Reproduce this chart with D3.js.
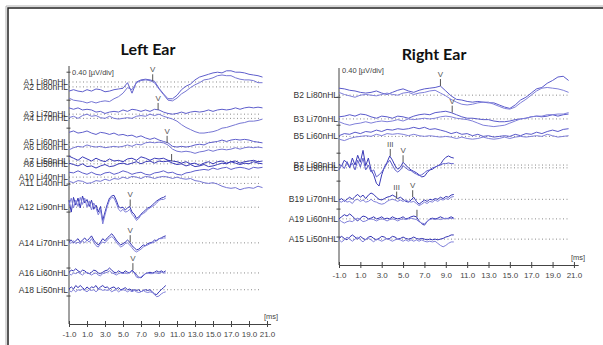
<!DOCTYPE html>
<html>
<head>
<meta charset="utf-8">
<script src="https://cdn.jsdelivr.net/npm/d3@7"></script>
<style>
  body { margin: 0; background: #fff; }
  svg { display: block; }
  text { font-family: "Liberation Sans", Arial, sans-serif; }
</style>
</head>
<body>
<svg id="chart" width="603" height="345"></svg>
<script>
// ---- data (µV offsets from each channel baseline, one value per sample) ----
const xTicks = [-1, 1, 3, 5, 7, 9, 11, 13, 15, 17, 19, 21];

// Left ear
const leftLabels = ["A1 Li80nHL", "A2 Li80nHL", "A3 Li70nHL", "A4 Li70nHL", "A5 Li60nHL", "A6 Li60nHL",
  "A7 Li50nHL", "A8 Li50nHL", "A10 Li40nHL", "A11 Li40nHL", "A12 Li90nHL", "A14 Li70nHL", "A16 Li60nHL", "A18 Li50nHL"];
const leftOffsets = [3.46, 3.39, 3.0, 2.94, 2.6, 2.53, 2.33, 2.29, 2.1, 2.01, 1.67, 1.16, 0.73, 0.49];
const leftStep = [0.5, 0.5, 0.5, 0.5, 0.5, 0.5, 0.5, 0.5, 0.5, 0.5, 0.25, 0.25, 0.25, 0.25];

const A1 = [-0.13,-0.11,-0.13,-0.14,-0.11,-0.13,-0.10,-0.11,-0.14,-0.13,-0.11,-0.10,-0.09,-0.01,-0.16,0,0.03,0.04,0.03,0.01,-0.09,-0.17,-0.24,-0.24,-0.19,-0.11,-0.06,-0.03,0.03,0.07,0.09,0.11,0.13,0.14,0.13,0.16,0.16,0.14,0.14,0.13,0.11,0.10,0.09,0.07];
const A2 = [-0.16,-0.19,-0.20,-0.21,-0.23,-0.21,-0.23,-0.21,-0.20,-0.21,-0.17,-0.14,-0.09,-0.01,-0.04,0.06,0.09,0.10,0.09,0.06,-0.03,-0.11,-0.19,-0.20,-0.16,-0.10,-0.06,-0.01,0.03,0.06,0.10,0.11,0.13,0.16,0.17,0.16,0.16,0.13,0.11,0.10,0.10,0.09,0.06,0.06];
const A3 = [0.09,0.07,0.09,0.06,0.07,0.06,0.03,0.04,0.01,0.03,0.04,0.03,0.06,0.04,0.07,0.06,0.04,0.06,0.04,0.07,0.06,0.03,0.01,0,0.01,0.03,0.01,0.03,0.04,0.03,0.04,0.06,0.04,0.06,0.07,0.06,0.07,0.09,0.07,0.09,0.10,0.09,0.10,0.09];
const A4 = [0.01,0.03,0,0.04,0.06,0.03,0.04,0.01,0,0.03,0,-0.01,0,0.01,0,0.03,0.04,0.03,0.06,0.04,0.06,0.03,0.01,-0.01,-0.04,-0.09,-0.13,-0.16,-0.19,-0.21,-0.21,-0.20,-0.19,-0.17,-0.14,-0.13,-0.11,-0.09,-0.07,-0.06,-0.04,-0.04,-0.03,-0.01];
const A5 = [0.14,0.16,0.13,0.14,0.16,0.13,0.11,0.14,0.13,0.11,0.13,0.10,0.11,0.09,0.10,0.07,0.09,0.06,0.04,0.06,0.03,0.01,-0.01,-0.06,-0.07,-0.06,-0.07,-0.06,-0.04,-0.03,-0.04,-0.01,0,0.01,0.03,0.01,0.03,0.04,0.03,0.04,0.03,0.01,0,-0.01];
const A6 = [-0.04,-0.01,0.01,0,0.03,0.01,0,0.01,-0.01,0,0.01,0,0.01,0.03,0.01,0.04,0.03,0.06,0.07,0.06,0.07,0.06,0.03,-0.03,-0.06,-0.07,-0.06,-0.07,-0.09,-0.07,-0.06,-0.04,-0.06,-0.04,-0.03,-0.04,-0.03,-0.01,-0.03,-0.01,0,-0.01,0,-0.01];
const A7 = [0.07,0.04,0.01,0.06,0.03,0,0.04,0.01,-0.01,0.03,0,0.01,-0.01,0.03,0.04,0.01,0.06,0.04,0.01,0.04,0.03,0.04,0.01,0,-0.01,-0.03,-0.01,-0.04,-0.03,-0.06,-0.03,-0.01,-0.04,-0.01,0,-0.03,-0.01,0,-0.03,-0.01,0,0.01,-0.01,0];
const A8 = [0.01,-0.01,-0.03,0,-0.04,-0.03,-0.06,-0.03,-0.01,-0.04,-0.03,0,0.01,-0.01,0.01,0.03,0,0.03,0.04,0.01,0.04,0.03,0.04,0.01,-0.01,0,-0.03,-0.01,-0.04,-0.03,-0.01,-0.04,-0.03,-0.01,0.01,0,0.03,0.01,-0.01,0.01,0,0.03,0.01,0];
const A10 = [0.07,0.06,0.09,0.06,0.04,0.07,0.04,0.03,0.06,0.07,0.04,0.06,0.09,0.07,0.04,0.06,0.07,0.04,0.03,0.06,0.07,0.09,0.06,0.07,0.04,0.03,0.06,0.07,0.09,0.10,0.11,0.10,0.13,0.11,0.13,0.14,0.11,0.13,0.14,0.13,0.11,0.14,0.13,0.14];
const A11 = [0.03,0.01,0.04,0.03,0,0.01,0.04,0.03,0.06,0.04,0.07,0.06,0.09,0.07,0.10,0.09,0.07,0.10,0.09,0.07,0.09,0.10,0.09,0.07,0.09,0.07,0.06,0.07,0.04,0.03,0.01,0,0.01,-0.01,-0.04,-0.06,-0.07,-0.06,-0.09,-0.07,-0.06,-0.07,-0.04,-0.06];
const A12a = [0.10,-0.07,0.14,0.03,0.13,-0.01,0.16,0.06,0.11,0.01,0.10,-0.03,0.03,-0.07,0.01,-0.19,-0.07,0.04,0.13,0.16,0.17,0.10,0.01,-0.01,0,-0.04,-0.01,0.01,-0.07,-0.10,-0.16,-0.14,-0.10,-0.07,-0.04,-0.01,0,0.03,0.06,0.09,0.11,0.13,0.14,0.16];
const A12b = [0.03,0.13,-0.01,0.10,0.01,0.14,0.04,0.13,0,0.09,-0.04,0.06,-0.01,-0.11,-0.04,-0.24,-0.11,0.01,0.10,0.14,0.13,0.06,-0.03,-0.06,-0.03,-0.07,-0.06,-0.03,-0.10,-0.14,-0.19,-0.16,-0.11,-0.09,-0.07,-0.03,-0.01,0.01,0.03,0.06,0.10,0.11,0.11,0.13];
const A14a = [0.01,0.04,0,0.03,0.06,0.01,0.04,0.07,0.03,0.06,0.10,0.04,0,-0.03,0.01,0.06,0.03,0.07,0.10,0.13,0.09,0.04,0,-0.03,-0.01,0.01,0.04,0.01,-0.04,-0.07,-0.10,-0.09,-0.06,-0.03,-0.04,-0.01,0,0.01,0.04,0.03,0.06,0.07,0.09,0.10];
const A14b = [-0.01,0,0.03,-0.01,0.01,-0.01,0.03,0,0.04,0.01,0.06,0.01,-0.04,-0.06,-0.01,0.01,0,0.04,0.07,0.09,0.06,0.01,-0.03,-0.06,-0.04,-0.01,0,-0.03,-0.07,-0.11,-0.13,-0.11,-0.09,-0.06,-0.04,-0.03,-0.01,0,0.01,0.04,0.06,0.06,0.07,0.07];
const A16a = [0.01,0.04,0.03,0.06,0.03,0.01,0.04,0.03,0,-0.01,0.01,0.04,0.03,0,-0.01,0.01,0.03,0.04,0.07,0.04,0.01,0,0.03,0.01,0,0.03,0.01,0,0.04,0.01,-0.03,-0.06,-0.07,-0.04,-0.01,0,0.01,0,0.01,0.03,0.01,0.03,0.01,0.03];
const A16b = [-0.01,-0.03,0,-0.01,0.01,-0.01,-0.03,0,0.01,-0.01,-0.03,-0.01,0,-0.03,-0.04,-0.01,0,0.01,0.03,0,-0.01,-0.03,-0.01,0,-0.01,0,-0.01,0.01,0.03,0,-0.06,-0.07,-0.06,-0.03,-0.01,0,-0.01,-0.01,0,0,-0.01,0.01,0,0];
const A18a = [0.01,0.04,0.01,0.06,0.03,0.06,0.03,0,0.04,0.01,0.04,0.03,0.06,0.01,0.04,0.06,0.03,0.04,0.01,0.03,0.04,0.01,0.03,0,0.01,0.03,0,0.01,-0.01,0,-0.01,0,-0.03,-0.01,0,-0.01,0,-0.03,-0.06,-0.07,-0.03,0,0.03,0.06];
const A18b = [-0.01,-0.03,0,-0.03,0,-0.01,0.01,-0.01,-0.03,0,-0.01,0,-0.03,0,0.01,-0.01,0,-0.01,0,-0.03,-0.01,0,-0.03,-0.01,0,-0.01,-0.03,-0.01,-0.03,-0.01,-0.03,-0.04,-0.03,-0.01,-0.03,-0.04,-0.03,-0.04,-0.07,-0.10,-0.09,-0.06,-0.04,-0.03];

const leftTraces = [[A1], [A2], [A3], [A4], [A5], [A6], [A7], [A8], [A10], [A11],
  [A12a, A12b], [A14a, A14b], [A16a, A16b], [A18a, A18b]];
// [row, latency ms, wave label]
const leftPeaks = [[0, 8.3, "V"], [2, 8.9, "V"], [4, 9.9, "V"], [6, 10.4, ""], [10, 5.8, "V"], [11, 5.8, "V"], [12, 6.1, "V"]];

// Right ear
const rightLabels = ["B2 Li80nHL", "B3 Li70nHL", "B5 Li60nHL", "B7 Li90nHL", "B8 Li90nHL", "B19 Li70nHL", "A19 Li60nHL", "A15 Li50nHL"];
const rightOffsets = [2.43, 2.09, 1.84, 1.43, 1.39, 0.94, 0.66, 0.37];
const rightStep = [0.5, 0.5, 0.5, 0.25, 0.25, 0.25, 0.25, 0.25];

const B2a = [0.10,0.09,0.07,0.06,0.04,0.03,0.04,0.06,0.03,0.01,0.04,0.07,0.09,0.06,0.04,0.07,0.09,0.10,0.11,0.13,0.06,-0.01,-0.06,-0.07,-0.09,-0.10,-0.09,-0.10,-0.11,-0.11,-0.14,-0.17,-0.19,-0.14,-0.07,-0.03,0.03,0.09,0.11,0.17,0.21,0.26,0.27,0.21];
const B2b = [0.04,0.01,-0.01,-0.03,0,0.01,0,-0.01,0.01,0.03,0.01,0,0.03,0.04,0.01,0.03,0.04,0.06,0.07,0.03,-0.01,-0.06,-0.10,-0.13,-0.14,-0.13,-0.11,-0.10,-0.10,-0.13,-0.16,-0.19,-0.20,-0.17,-0.11,-0.06,0,0.06,0.10,0.11,0.10,0.09,0.07,0.04];
const B3a = [0.03,0.04,0.06,0.04,0.07,0.06,0.03,0.01,0.04,0.03,0.01,0.04,0.03,0.01,0.04,0.06,0.07,0.06,0.09,0.10,0.11,0.09,0.06,0.03,0.01,0.01,0,-0.01,-0.01,-0.03,-0.04,-0.04,-0.03,-0.01,0,0.01,0.03,0.04,0.03,0.04,0.06,0.04,0.06,0.07];
const B3b = [-0.04,-0.07,-0.09,-0.07,-0.06,-0.04,-0.06,-0.04,-0.03,-0.04,-0.03,-0.01,-0.03,0,-0.01,0,0.01,0,0.01,0.03,0.04,0.03,0.01,0,-0.01,-0.03,-0.06,-0.09,-0.10,-0.11,-0.10,-0.09,-0.06,-0.03,0,0.01,0.03,0.04,0.04,0.06,0.06,0.07,0.07,0.09];
const B5a = [0.01,0.04,0.03,0.06,0.04,0.07,0.06,0.09,0.07,0.10,0.09,0.11,0.10,0.11,0.13,0.11,0.13,0.10,0.11,0.09,0.07,0.04,0.06,0.03,0.04,0.01,0.03,0,0.01,-0.01,0,0.01,0,0.03,0.01,0.04,0.03,0.06,0.04,0.07,0.09,0.07,0.10,0.11];
const B5b = [-0.04,-0.06,-0.03,-0.01,0,0.01,0,0.03,0.01,0.04,0.03,0.04,0.03,0.01,0.03,0.01,0,0.01,0,-0.01,0,-0.01,-0.03,-0.01,-0.03,-0.04,-0.03,-0.01,-0.03,-0.04,-0.03,-0.01,-0.03,-0.01,0,-0.01,0,0.01,0,0.03,0.01,-0.01,0,0.01];
const B7a = [0.01,-0.01,0.07,0.03,-0.04,0.10,0,0.14,0.04,0.21,-0.01,0.10,-0.07,-0.14,-0.26,-0.30,-0.14,-0.03,0.04,0.13,0.07,-0.01,-0.06,-0.03,0.04,0,-0.04,-0.07,-0.09,-0.11,-0.14,-0.17,-0.16,-0.11,-0.07,-0.06,-0.03,-0.01,0.01,0.07,0.11,0.13,0.11,0.10];
const B8a = [-0.03,0.04,-0.01,0.09,0.01,0.07,-0.03,0.11,0.01,0.14,-0.03,0.04,-0.06,-0.03,-0.13,-0.10,-0.06,0,0.06,0.11,0.04,-0.03,-0.06,-0.03,0.03,0,-0.03,-0.04,-0.07,-0.09,-0.11,-0.10,-0.07,-0.04,-0.03,0,0.01,0.03,0.04,0.06,0.06,0.07,0.06,0.06];
const B19a = [-0.01,0.01,-0.03,0,0.03,0,0.04,0.07,0.03,0.06,0.01,0.06,0.09,0.07,0.03,0,-0.01,0.01,0.03,0.04,0.06,0.04,0.01,0.03,0,-0.03,-0.04,-0.01,0.03,-0.03,-0.07,-0.04,-0.01,-0.03,0,-0.01,0.01,0,0.03,0.01,0.04,0.03,0.06,0.07];
const B19b = [-0.03,-0.04,-0.01,-0.04,-0.03,-0.06,-0.01,0,-0.03,-0.01,-0.04,-0.03,0,-0.03,-0.04,-0.06,-0.07,-0.06,-0.03,-0.01,0,-0.01,-0.03,-0.01,-0.03,-0.01,-0.03,-0.04,-0.03,-0.06,-0.09,-0.07,-0.04,-0.06,-0.03,-0.04,-0.01,-0.03,0,-0.01,0.01,0,0.03,0.04];
const A19a = [0,0.03,0.06,0.04,0.07,0.04,0,-0.03,0.01,0.04,0.03,0,0.01,0.03,0,0.01,0.03,0,0.01,0,0.03,0.01,0,0.01,0.03,0,0.01,0.03,0.04,0.03,-0.03,-0.07,-0.09,-0.04,0,0.01,0,0.01,0.03,0.01,0,0.01,0.03,0.01];
const A19b = [-0.01,-0.04,-0.06,-0.04,-0.03,-0.04,-0.01,0.01,-0.01,-0.04,-0.03,-0.01,0,-0.01,-0.03,-0.01,0,-0.01,-0.03,-0.01,0,-0.01,-0.03,-0.01,0,-0.01,0,0.01,0,-0.01,-0.04,-0.06,-0.07,-0.04,-0.01,0,-0.01,0,-0.01,0,0.01,0,0.01,0];
const A15a = [0.01,0.04,0.01,-0.01,0.03,0.06,0.03,0,0.04,0.01,-0.01,0.03,0.04,0.01,-0.01,0.01,0.04,0.03,0,0.01,0.04,0.03,0,0.01,0.03,0.01,0,0.01,0.03,0.01,0,0.01,0,-0.01,0,-0.01,0,-0.01,0,0.01,0.03,0.04,0.06,0.06];
const A15b = [-0.01,-0.04,-0.01,0.03,0,-0.03,0,0.03,-0.01,-0.04,0,0.01,-0.01,-0.04,0,-0.01,-0.03,-0.01,0.01,-0.01,-0.03,-0.01,0,-0.01,-0.03,-0.01,-0.03,-0.01,-0.03,-0.01,-0.03,-0.01,-0.03,-0.04,-0.03,-0.04,-0.03,-0.06,-0.09,-0.11,-0.09,-0.06,-0.04,-0.04];

const rightTraces = [[B2a, B2b], [B3a, B3b], [B5a, B5b], [B7a], [B8a], [B19a, B19b], [A19a, A19b], [A15a, A15b]];
const rightPeaks = [[0, 8.5, "V"], [1, 9.6, "V"], [3, 3.8, "III"], [3, 5.0, "V"], [5, 4.4, "III"], [5, 5.9, "V"], [6, 6.3, ""]];

// ---- drawing ----
const svg = d3.select("#chart");

// page frame
svg.append("path").attr("d", "M6,345V6H603").attr("fill", "none").attr("stroke", "#b0b0b0");
svg.append("path").attr("d", "M8,345V8H603").attr("fill", "none").attr("stroke", "#222").attr("stroke-width", 1.5);

const panels = [
  { title: "Left Ear", titleX: 148, titleY: 55, xRange: [69, 270.6], yRange: [324, 68], yMax: 3.66,
    labels: leftLabels, offsets: leftOffsets, steps: leftStep, traces: leftTraces, peaks: leftPeaks,
    dotEnd: 20.2, scaleY: 75, dark: [6, 7, 10, 11, 12, 13] },
  { title: "Right Ear", titleX: 434, titleY: 60, xRange: [339, 578.2], yRange: [265, 70], yMax: 2.79,
    labels: rightLabels, offsets: rightOffsets, steps: rightStep, traces: rightTraces, peaks: rightPeaks,
    dotEnd: 20.5, scaleY: 73, dark: [3, 5, 6, 7] }
];

panels.forEach(p => {
  const x = d3.scaleLinear().domain([-1, 21.4]).range(p.xRange);
  const y = d3.scaleLinear().domain([0, p.yMax]).range(p.yRange);
  const g = svg.append("g");

  g.append("text").attr("x", p.titleX).attr("y", p.titleY).attr("text-anchor", "middle")
    .style("font-family", "Lato, 'Open Sans', sans-serif").style("font-weight", "bold")
    .style("font-size", "16px").attr("fill", "#111").text(p.title);

  // dotted baselines
  g.selectAll(".base").data(p.offsets).join("line")
    .attr("x1", x(-1)).attr("x2", x(p.dotEnd))
    .attr("y1", d => y(d)).attr("y2", d => y(d))
    .attr("stroke", "#8a8a8a").attr("stroke-dasharray", "1,2.5");

  // y axis with crossing ticks
  const y0 = p.yRange[1] - 2;
  g.append("line").attr("x1", x(-1)).attr("x2", x(-1)).attr("y1", y0).attr("y2", y(0))
    .attr("stroke", "#444");
  g.selectAll(".yt").data(d3.range(0.4, p.yMax, 0.4)).join("line")
    .attr("x1", x(-1) - 2.5).attr("x2", x(-1) + 1.5)
    .attr("y1", d => y(d)).attr("y2", d => y(d)).attr("stroke", "#444");
  g.append("text").attr("x", x(-1) + 3).attr("y", p.scaleY)
    .style("font-size", "7.5px").attr("fill", "#444").text("0.40 [µV/div]");

  // x axis
  const ax = g.append("g").attr("transform", `translate(0,${y(0)})`)
    .call(d3.axisBottom(x).tickValues(xTicks).tickFormat(d => d.toFixed(1))
      .tickSizeInner(3).tickSizeOuter(0).tickPadding(4));
  ax.select(".domain").attr("stroke", "#444");
  ax.selectAll(".tick line").attr("y1", -3).attr("stroke", "#444");
  ax.selectAll(".tick text").style("font-family", "'Liberation Sans', Arial, sans-serif")
    .style("font-size", "8px").attr("fill", "#444");
  g.append("text").attr("x", x(21) - 3).attr("y", y(0) - 5)
    .style("font-size", "7.5px").attr("fill", "#444").text("[ms]");

  // waveforms
  p.traces.forEach((row, ri) => {
    row.forEach((vals, ti) => {
      const line = d3.line()
        .x((d, i) => x(-1 + i * p.steps[ri]))
        .y(d => y(p.offsets[ri] + d));
      let col = ti === 0 ? "#5a5acb" : "#8080da";
      if (p.dark.includes(ri) && ti === 0) col = "#3434b4";
      if (row.length === 1) col = ri % 2 === 0 ? "#5f5fcc" : "#7676d4";
      if (row.length === 1 && p.dark.includes(ri)) col = "#3a3ab8";
      g.append("path").attr("d", line(vals)).attr("fill", "none")
        .attr("stroke", col).attr("stroke-width", 1).attr("stroke-linejoin", "round");
    });
  });

  // channel labels (overlapping pairs as in the original export)
  g.selectAll(".lbl").data(p.labels).join("text")
    .attr("x", x(-1) - 1).attr("y", (d, i) => y(p.offsets[i]) + 3)
    .attr("text-anchor", "end").style("font-size", "8.5px").attr("fill", "#333")
    .text(d => d);

  // peak markers
  p.peaks.forEach(([ri, t, lab]) => {
    const vals = p.traces[ri][0];
    const idx = Math.round((t + 1) / p.steps[ri]);
    const yv = y(p.offsets[ri] + vals[idx]);
    g.append("line").attr("x1", x(t)).attr("x2", x(t)).attr("y1", yv).attr("y2", yv - 7)
      .attr("stroke", "#555");
    g.append("text").attr("x", x(t)).attr("y", yv - 9).attr("text-anchor", "middle")
      .style("font-size", "8px").attr("fill", "#555").text(lab);
  });
});
</script>
</body>
</html>
